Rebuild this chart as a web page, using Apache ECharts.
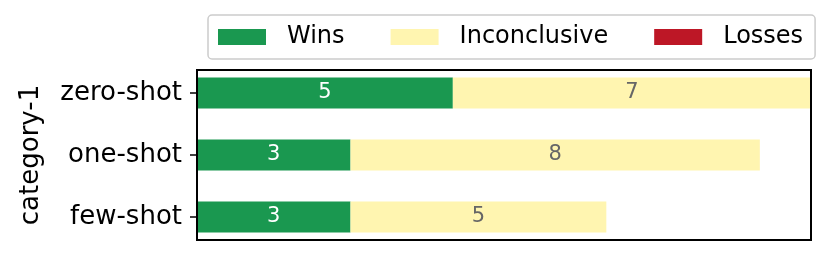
<!DOCTYPE html>
<html><head><meta charset="utf-8">
<script src="https://cdn.jsdelivr.net/npm/echarts@6/dist/echarts.min.js"></script>
<style>html,body{margin:0;padding:0;background:#fff}#c{width:830px;height:256px}</style>
</head><body><div id="c"></div>
<script>
const categories = ['zero-shot', 'one-shot', 'few-shot'];
const wins = [5, 3, 3];
const inconclusive = [7, 8, 5];
const losses = [0, 0, 0];
const seriesNames = ['Wins', 'Inconclusive', 'Losses'];
const colors = ['#1a9850', '#fff5b0', '#bd1726'];
const labelColors = ['#ffffff', '#666666', '#ffffff'];
const xMax = 12;

const FONT = 'DejaVu Sans';
const chart = echarts.init(document.getElementById('c'));
const dataSets = [wins, inconclusive, losses];
chart.setOption({
  animation: false,
  textStyle: { fontFamily: FONT },
  legend: {
    data: seriesNames,
    left: 208, top: 15,
    padding: [10, 12, 10, 10],
    itemWidth: 48, itemHeight: 16, itemGap: 46,
    borderColor: '#cccccc', borderWidth: 1.5, borderRadius: 4,
    textStyle: { fontFamily: FONT, fontSize: 24, color: '#000', padding: [0, 0, 0, 16] },
    icon: 'rect'
  },
  grid: [
    { left: 197, width: 614, top: 62, height: 186, containLabel: false },
    { left: 197, width: 614, top: 70, height: 170, show: true, borderColor: '#000', borderWidth: 2, backgroundColor: 'transparent', z: 5 }
  ],
  xAxis: [
    { type: 'value', gridIndex: 0, min: 0, max: xMax, show: false },
    { type: 'value', gridIndex: 1, min: 0, max: 1, show: false }
  ],
  yAxis: [
    { type: 'category', gridIndex: 0, data: categories, inverse: true,
      axisLine: { show: false },
      axisTick: { show: true, length: 7, alignWithLabel: true, lineStyle: { color: '#000', width: 1.5 } },
      axisLabel: { fontFamily: FONT, fontSize: 26, color: '#000', margin: 15 },
      name: 'category-1', nameLocation: 'middle', nameGap: 153,
      nameTextStyle: { fontFamily: FONT, fontSize: 26, color: '#000' }
    },
    { type: 'value', gridIndex: 1, min: 0, max: 1, show: false }
  ],
  series: seriesNames.map((n, i) => ({
    name: n, type: 'bar', stack: 'total', xAxisIndex: 0, yAxisIndex: 0,
    data: dataSets[i], barWidth: 31,
    itemStyle: { color: colors[i] },
    label: { show: true, position: 'inside', fontFamily: FONT, fontSize: 21, color: labelColors[i],
      formatter: p => p.value === 0 ? '' : String(p.value) }
  }))
});
</script></body></html>
